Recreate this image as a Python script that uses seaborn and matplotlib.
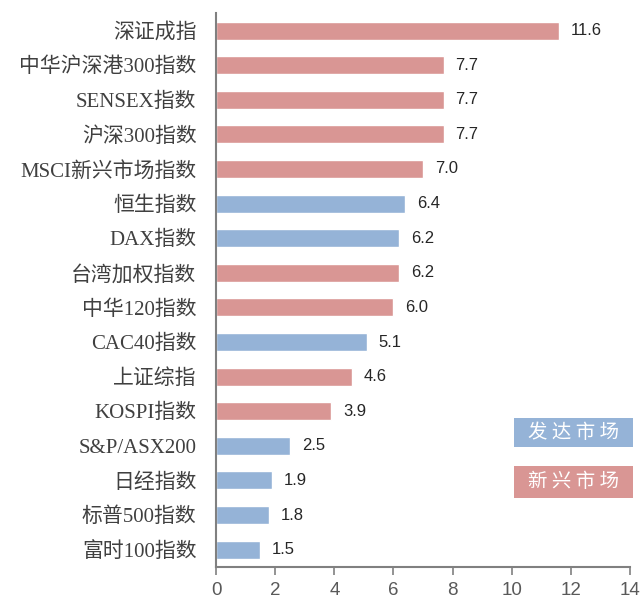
import matplotlib
matplotlib.use("Agg")
import matplotlib.pyplot as plt
from matplotlib.patches import Rectangle
import seaborn as sns
import pandas as pd

categories = ["深证成指", "中华沪深港300指数", "SENSEX指数", "沪深300指数", "MSCI新兴市场指数",
              "恒生指数", "DAX指数", "台湾加权指数", "中华120指数", "CAC40指数", "上证综指",
              "KOSPI指数", "S&P/ASX200", "日经指数", "标普500指数", "富时100指数"]
values = [11.6, 7.7, 7.7, 7.7, 7.0, 6.4, 6.2, 6.2, 6.0, 5.1, 4.6, 3.9, 2.5, 1.9, 1.8, 1.5]
markets = ["新兴市场", "新兴市场", "新兴市场", "新兴市场", "新兴市场", "发达市场", "发达市场",
           "新兴市场", "新兴市场", "发达市场", "新兴市场", "新兴市场", "发达市场", "发达市场",
           "发达市场", "发达市场"]
xticks = [0, 2, 4, 6, 8, 10, 12, 14]

RED = "#D99694"
BLUE = "#95B3D7"
palette = {"新兴市场": RED, "发达市场": BLUE}

df = pd.DataFrame({"cat": categories, "val": values, "mkt": markets})

sns.set_theme(style="white")
plt.rcParams['font.family'] = ['Liberation Serif', 'Noto Sans CJK SC', 'DejaVu Sans']

fig = plt.figure(figsize=(6.41, 6.01), dpi=100)
ax = fig.add_axes([0.337, 0.0566, 0.646, 0.9214])

sns.barplot(data=df, y="cat", x="val", hue="mkt", palette=palette, dodge=False,
            order=categories, width=0.52, legend=False, ax=ax, orient="h", saturation=1)

ax.set_xlim(0, 14)
ax.set_ylim(len(categories) - 0.5, -0.5)
ax.set_xticks(xticks)
ax.set_xticklabels([str(t) for t in xticks], fontsize=13.5, color="#595959",
                   family=['Liberation Sans', 'DejaVu Sans'])
ax.set_xlabel("")
ax.set_ylabel("")
ax.tick_params(axis="y", length=0, labelsize=15, labelcolor="#404040", pad=14)
ax.tick_params(axis="x", length=6, width=1.2, color="#808080", direction="out", pad=5, bottom=True)
for lab in ax.get_yticklabels():
    lab.set_family(['Liberation Serif', 'Noto Sans CJK SC', 'DejaVu Sans'])

for s in ["top", "right"]:
    ax.spines[s].set_visible(False)
for s in ["left", "bottom"]:
    ax.spines[s].set_color("#808080")
    ax.spines[s].set_linewidth(1.5)

for i, v in enumerate(values):
    ax.text(v + 0.4, i, f"{v:.1f}", va="center", ha="left", fontsize=12, color="#262626",
            family=['Liberation Sans', 'DejaVu Sans'])

# legend boxes
for y0, h, label, col in [(0.2166, 0.052, "发 达 市 场", BLUE), (0.1245, 0.058, "新 兴 市 场", RED)]:
    ax.add_patch(Rectangle((0.72, y0), 0.287, h, transform=ax.transAxes, fc=col, ec="none",
                           clip_on=False))
    ax.text(0.72 + 0.287 / 2, y0 + h / 2, label, transform=ax.transAxes, ha="center", va="center",
            fontsize=14, color="white", family=['Noto Sans CJK SC'])

fig.savefig("out.png", dpi=100)
